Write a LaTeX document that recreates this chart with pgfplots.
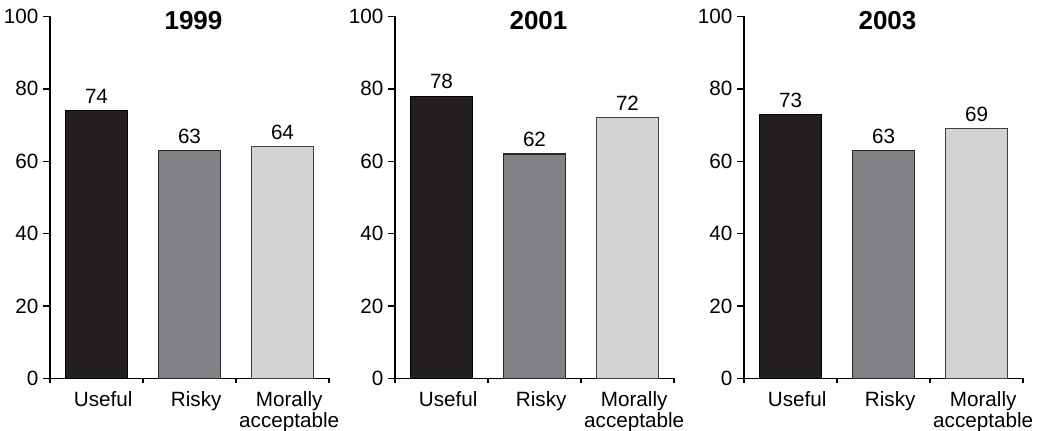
\documentclass[border=0pt]{standalone}
\usepackage{fontspec}
\setmainfont{Liberation Sans}
\usepackage{pgfplots}
\pgfplotsset{compat=1.18}
\definecolor{cA}{HTML}{231F20}
\definecolor{cB}{HTML}{808285}
\definecolor{cC}{HTML}{D1D3D4}
\pgfplotsset{panel/.style={
  scale only axis, width=209.25pt, height=271.5pt, anchor=south west,
  xmin=-0.5, xmax=2.5, ymin=0, ymax=100,
  axis x line*=bottom, axis y line*=left,
  axis line style={line width=1pt, black},
  ytick={0,20,...,100},
  xtick={0,1,2}, xticklabels={Useful,Risky,Morally\\acceptable},
  minor xtick={-0.5,0.5,1.5,2.5},
  tick align=outside,
  major tick length=5.25pt, minor tick length=3.75pt,
  tick style={line width=1pt, black},
  major x tick style={draw=none},
  xticklabel style={align=center, font=\fontsize{15.5}{12.75}\selectfont, xshift=5pt, yshift=-1pt},
  yticklabel style={font=\fontsize{15.5}{17}\selectfont},
  /pgf/number format/assume math mode=true,
  ybar, bar width=0.667,
  nodes near coords,
  every node near coord/.append style={font=\fontsize{15.5}{17}\selectfont, yshift=1.5pt, text=black},
  title style={font=\fontsize{19.5}{22}\selectfont\bfseries, at={(0.5,1)}, anchor=north, inner sep=0pt, yshift=-2.25pt, xshift=3pt},
  clip=false,
},
b1/.style={fill=cA, draw=black, line width=0.8pt, bar shift=0pt},
b2/.style={fill=cB, draw=black!85, line width=0.8pt, bar shift=0pt},
b3/.style={fill=cC, draw=black!75, line width=0.8pt, bar shift=0pt},
}
\begin{document}
\begin{tikzpicture}
\path[use as bounding box] (0,0) rectangle (793.5pt,323.25pt);
\begin{axis}[panel, at={(37.5pt,39.4pt)}, title={1999}]
\addplot[b1] coordinates {(0,74)};
\addplot[b2] coordinates {(1,63)};
\addplot[b3] coordinates {(2,64)};
\end{axis}
\begin{axis}[panel, at={(296.25pt,39.4pt)}, title={2001}]
\addplot[b1] coordinates {(0,78)};
\addplot[b2] coordinates {(1,62)};
\addplot[b3] coordinates {(2,72)};
\end{axis}
\begin{axis}[panel, at={(558pt,39.4pt)}, title={2003}]
\addplot[b1] coordinates {(0,73)};
\addplot[b2] coordinates {(1,63)};
\addplot[b3] coordinates {(2,69)};
\end{axis}
\end{tikzpicture}
\end{document}
